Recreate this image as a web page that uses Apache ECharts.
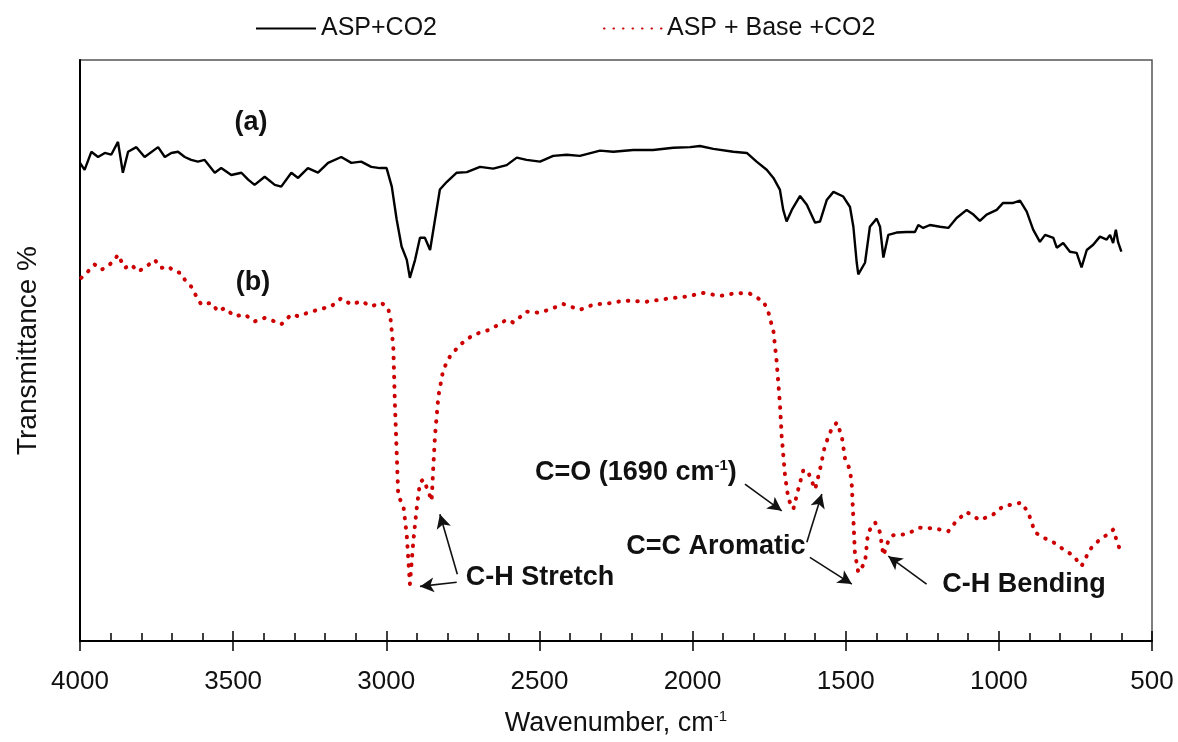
<!DOCTYPE html>
<html>
<head>
<meta charset="utf-8">
<script src="https://cdn.jsdelivr.net/npm/echarts@6/dist/echarts.min.js"></script>
<style>
  html, body { margin: 0; padding: 0; background: #fff; }
  #main { width: 1178px; height: 742px; }
</style>
</head>
<body>
<div id="main"></div>
<script>
// FTIR spectra, wavenumber (cm-1) vs transmittance (arbitrary %)
var seriesNames = ['ASP+CO2', 'ASP + Base +CO2'];

var blackW = [4000,3985,3963,3941,3919,3898,3876,3860,3843,3816,3789,3745,3723,3702,3680,3658,3637,3615,3593,3560,
  3539,3506,3473,3451,3430,3397,3364,3343,3310,3288,3256,3223,3190,3147,3114,3082,3049,3021,2999,2982,
  2966,2950,2933,2923,2906,2890,2874,2857,2841,2825,2803,2770,2737,2694,2651,2607,2574,2542,2498,2455,
  2411,2368,2302,2259,2194,2129,2063,2008,1976,1932,1867,1823,1791,1758,1736,1715,1704,1693,1676,1649,
  1627,1600,1584,1562,1540,1508,1486,1475,1464,1459,1437,1421,1399,1388,1377,1361,1334,1301,1274,1263,
  1247,1225,1192,1165,1138,1105,1083,1062,1040,1007,986,953,931,909,888,866,849,822,811,790,
  768,746,730,713,692,670,648,637,627,618,611,600];
var blackT = [82.3,81.1,84.2,83.3,84.0,83.7,85.9,80.6,84.2,85.0,83.3,85.0,83.3,84.0,84.2,83.3,82.8,82.5,82.8,80.6,
  81.4,80.2,80.6,79.4,78.5,79.9,78.5,78.2,80.6,79.7,81.4,80.6,82.3,83.3,82.3,82.5,81.6,81.4,81.4,78.2,
  72.5,67.9,65.6,62.5,65.6,69.4,69.4,67.3,72.5,77.7,79.0,80.6,80.7,81.6,81.3,81.9,83.2,82.8,82.5,83.5,
  83.7,83.5,84.4,84.2,84.5,84.5,84.9,85.0,85.2,84.7,84.2,84.0,82.5,81.1,79.7,77.7,74.2,72.2,74.2,76.6,
  75.1,72.0,72.2,75.9,77.3,76.5,74.7,71.3,65.1,63.1,65.1,71.3,72.7,71.3,66.0,69.9,70.3,70.4,70.4,71.6,
  71.1,71.6,71.3,71.1,72.8,74.2,73.4,72.3,73.4,74.2,75.4,75.4,75.8,73.9,70.8,68.7,69.9,69.4,67.7,68.5,
  67.0,66.8,64.3,67.3,68.2,69.6,69.1,69.9,68.5,70.8,68.7,67.0];

var redW = [3996,3974,3952,3930,3909,3887,3876,3854,3833,3811,3789,3756,3735,3713,3691,3669,3658,3637,3620,3604,
  3571,3549,3528,3495,3462,3430,3397,3364,3343,3310,3288,3256,3223,3180,3147,3114,3082,3049,3016,2994,
  2986,2977,2972,2966,2961,2944,2933,2923,2912,2901,2890,2879,2863,2852,2847,2841,2830,2814,2792,2759,
  2716,2661,2607,2585,2542,2498,2455,2422,2368,2324,2259,2226,2150,2085,2019,1965,1910,1856,1813,1780,
  1769,1753,1736,1726,1715,1709,1698,1687,1671,1655,1638,1622,1600,1584,1568,1546,1529,1513,1502,1486,
  1480,1475,1470,1459,1437,1427,1404,1388,1377,1361,1345,1301,1258,1214,1165,1138,1105,1062,1018,986,
  926,904,882,855,822,790,757,730,702,670,643,626,615,599];
var redT = [62.5,63.6,64.8,63.9,64.5,65.6,66.5,64.2,64.8,63.6,64.2,65.6,64.2,64.5,63.6,63.3,62.2,61.0,59.3,57.9,
  58.2,56.7,57.3,55.9,56.2,55.0,55.6,55.0,54.5,56.2,55.9,56.5,57.0,57.6,59.0,57.9,58.5,57.6,58.2,57.3,
  55.4,50.5,41.0,32.4,25.0,23.2,18.1,9.8,17.0,22.7,27.3,27.8,25.8,24.1,29.5,35.3,42.1,46.7,49.0,51.0,
  52.7,53.6,55.3,54.8,56.7,56.5,57.3,58.0,57.0,57.9,58.2,58.6,58.4,58.9,59.3,59.9,59.4,59.9,59.8,58.8,
  58.5,56.7,53.3,48.4,41.0,35.3,28.4,24.4,22.7,26.1,29.5,29.0,26.1,29.5,33.6,36.5,37.6,35.3,31.3,29.5,
  26.7,21.0,15.2,11.8,13.5,18.7,20.4,18.7,14.7,17.2,18.2,18.4,19.5,19.4,18.9,20.7,22.2,20.8,21.8,23.2,
  23.8,22.1,18.7,17.8,17.0,15.8,14.7,12.9,15.8,17.5,18.4,19.2,17.2,14.9];

// annotation texts, placed in data space [wavenumber, transmittance]
var noteTexts = ['(a)', '(b)', 'C-H Stretch', 'C=O (1690 cm{sup|-1})', 'C=C Aromatic', 'C-H Bending'];
var notePos = [[3442, 89.2], [3435, 61.7], [2498, 11.0], [2185, 29.0], [1924, 16.3], [918, 9.8]];
// arrows: from -> to
var arrows = [
  [[2770, 10.1], [2890, 9.4]],
  [[2768, 11.5], [2825, 21.8]],
  [[1829, 27.0], [1709, 22.4]],
  [[1627, 17.0], [1578, 25.3]],
  [[1617, 14.4], [1480, 9.8]],
  [[1236, 9.8], [1361, 14.6]]
];

function zip(a, b) {
  var out = [];
  for (var i = 0; i < a.length; i++) out.push([a[i], b[i]]);
  return out;
}

var FONT = "'Liberation Sans', Arial, sans-serif";

var myChart = echarts.init(document.getElementById('main'));
myChart.setOption({
  animation: false,
  backgroundColor: '#fff',
  textStyle: { fontFamily: FONT, color: '#000' },
  legend: [{
    data: [seriesNames[0]],
    left: 250, top: 11,
    itemWidth: 60, itemHeight: 14,
    itemStyle: { opacity: 0 },
    textStyle: { fontSize: 25, color: '#111', fontFamily: FONT }
  }, {
    data: [seriesNames[1]],
    left: 598, top: 11,
    itemWidth: 58, itemHeight: 14,
    itemStyle: { opacity: 0 },
    textStyle: { fontSize: 25, color: '#111', fontFamily: FONT }
  }],
  grid: {
    left: 80, right: 26, top: 60, bottom: 100,
    show: true, borderColor: '#555', borderWidth: 1.5
  },
  xAxis: [{
    type: 'value',
    min: 500, max: 4000, interval: 500,
    inverse: true,
    position: 'bottom',
    name: 'Wavenumber, cm{sup|-1}',
    nameLocation: 'middle',
    nameGap: 68,
    nameTextStyle: {
      fontSize: 27, color: '#111', fontFamily: FONT,
      rich: { sup: { fontSize: 15, verticalAlign: 'top', padding: [0, 0, 14, 0], fontFamily: FONT, color: '#111' } }
    },
    axisLine: { show: true, lineStyle: { color: '#000', width: 2 } },
    axisTick: { show: true, inside: true, length: 10, lineStyle: { color: '#000', width: 1.5 } },
    minorTick: { show: true, splitNumber: 5, length: 8, lineStyle: { color: '#000', width: 1.5 } },
    axisLabel: {
      fontSize: 26, color: '#111', margin: 28, fontFamily: FONT,
      formatter: function (v) { return String(v); }
    },
    splitLine: { show: false }
  }, {
    type: 'value',
    min: 500, max: 4000, interval: 500,
    inverse: true,
    position: 'bottom',
    axisLine: { show: false },
    axisTick: { show: true, inside: false, length: 10, lineStyle: { color: '#000', width: 1.5 } },
    axisLabel: { show: false },
    splitLine: { show: false }
  }],
  yAxis: {
    type: 'value',
    min: 0, max: 100,
    name: 'Transmittance %',
    nameLocation: 'middle',
    nameGap: 38,
    nameTextStyle: { fontSize: 28, color: '#111', fontFamily: FONT },
    axisLine: { show: true, lineStyle: { color: '#000', width: 2 } },
    axisTick: { show: false },
    axisLabel: { show: false },
    splitLine: { show: false }
  },
  series: [{
    name: seriesNames[0],
    type: 'line',
    symbol: 'none',
    data: zip(blackW, blackT),
    lineStyle: { color: '#000', width: 2.4 },
    itemStyle: { color: '#000' },
    z: 3
  }, {
    name: seriesNames[1],
    type: 'line',
    symbol: 'none',
    data: zip(redW, redT),
    lineStyle: { color: '#cc0000', width: 4, type: [0.5, 9], cap: 'round' },
    itemStyle: { color: '#cc0000' },
    z: 2
  }, {
    name: 'notes',
    type: 'scatter',
    symbolSize: 1,
    itemStyle: { color: 'rgba(0,0,0,0)', opacity: 1 },
    silent: true,
    data: notePos.map(function (p, i) {
      return { value: p, label: { formatter: noteTexts[i] } };
    }),
    label: {
      show: true,
      position: 'inside',
      fontSize: 27,
      fontWeight: 'bold',
      color: '#111',
      opacity: 1,
      fontFamily: FONT,
      rich: { sup: { fontSize: 15, fontWeight: 'bold', verticalAlign: 'top', padding: [0, 0, 14, 0], color: '#111', fontFamily: FONT } }
    },
    markLine: {
      silent: true,
      symbol: ['none', 'arrow'],
      symbolSize: [11, 14],
      label: { show: false },
      lineStyle: { color: '#111', width: 1.6, type: 'solid', opacity: 1 },
      data: arrows.map(function (a) {
        return [{ coord: a[0] }, { coord: a[1] }];
      })
    },
    z: 5
  }]
});
</script>
</body>
</html>
